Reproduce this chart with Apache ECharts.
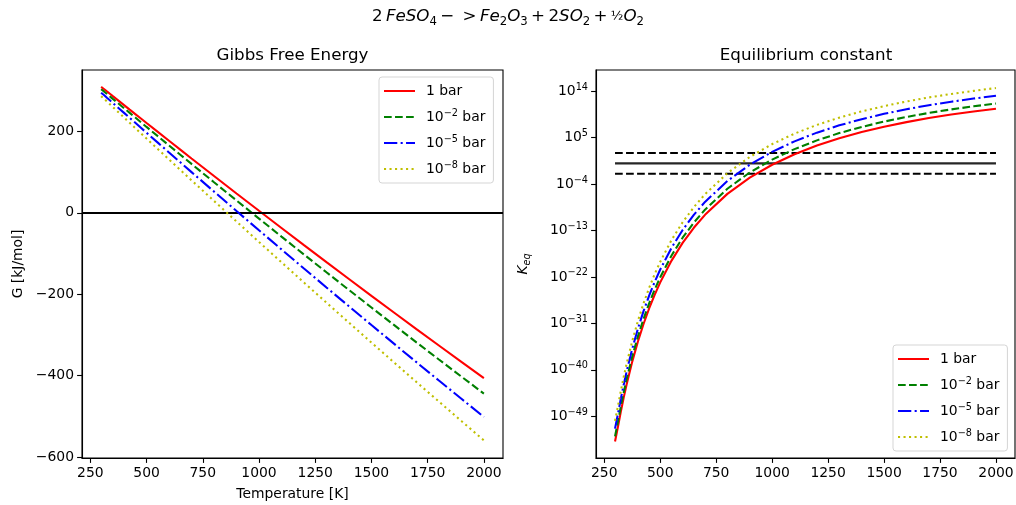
<!DOCTYPE html>
<html><head><meta charset="utf-8">
<script src="https://cdn.jsdelivr.net/npm/echarts@6/dist/echarts.min.js"></script>
<style>html,body{margin:0;padding:0;background:#fff}#c{width:1016px;height:505px}</style>
</head><body><div id="c"></div>
<script>
// ---- data ----
const temperature = [298, 312, 325, 337, 350, 375, 400, 425, 450, 475, 500, 550, 600, 650, 700, 800, 900, 1000, 1100, 1200, 1300, 1400, 1500, 1600, 1700, 1800, 1900, 2000];
const pressureLabels = ['1 bar', '10^-2 bar', '10^-5 bar', '10^-8 bar'];

// Gibbs free energy [kJ/mol]
const gibbs_1bar = [309.5, 303.7, 297.9, 292.6, 286.8, 275.8, 264.8, 253.7, 242.7, 231.7, 220.7, 198.9, 177.0, 155.3, 133.6, 90.5, 47.6, 5.0, -37.3, -79.4, -121.2, -162.7, -204.0, -244.9, -285.6, -326.0, -366.1, -406.0];
const gibbs_1e2 = [303.8, 297.7, 291.7, 286.2, 280.1, 268.6, 257.1, 245.6, 234.1, 222.6, 211.1, 188.4, 165.5, 142.9, 120.2, 75.2, 30.4, -14.1, -58.4, -102.4, -146.1, -189.5, -232.7, -275.5, -318.2, -360.5, -402.5, -444.3];
const gibbs_1e5 = [295.2, 288.8, 282.3, 276.5, 270.0, 257.8, 245.7, 233.4, 221.2, 209.0, 196.8, 172.6, 148.3, 124.2, 100.1, 52.2, 4.5, -42.9, -89.9, -136.8, -183.4, -229.7, -275.8, -321.5, -367.0, -412.2, -457.0, -501.7];
const gibbs_1e8 = [286.7, 279.8, 273.0, 266.8, 260.0, 247.1, 234.2, 221.2, 208.2, 195.3, 182.4, 156.8, 131.1, 105.5, 80.0, 29.2, -21.3, -71.6, -121.5, -171.3, -220.8, -269.9, -318.9, -367.4, -415.8, -463.8, -511.6, -559.2];

// log10 of equilibrium constant
const logK_1bar = [-53.9, -50.85, -47.88, -45.35, -42.80, -38.42, -34.58, -31.18, -28.17, -25.48, -23.06, -18.89, -15.41, -12.48, -9.97, -5.91, -2.76, -0.26, 1.77, 3.46, 4.87, 6.07, 7.10, 8.00, 8.78, 9.46, 10.06, 10.60];
const logK_1e2 = [-52.9, -49.85, -46.88, -44.35, -41.80, -37.42, -33.58, -30.18, -27.17, -24.48, -22.06, -17.89, -14.41, -11.48, -8.97, -4.91, -1.76, 0.74, 2.77, 4.46, 5.87, 7.07, 8.10, 9.00, 9.78, 10.46, 11.06, 11.60];
const logK_1e5 = [-51.4, -48.35, -45.38, -42.85, -40.30, -35.92, -32.08, -28.68, -25.67, -22.98, -20.56, -16.39, -12.91, -9.98, -7.47, -3.41, -0.26, 2.24, 4.27, 5.96, 7.37, 8.57, 9.60, 10.50, 11.28, 11.96, 12.56, 13.10];
const logK_1e8 = [-49.9, -46.85, -43.88, -41.35, -38.80, -34.42, -30.58, -27.18, -24.17, -21.48, -19.06, -14.89, -11.41, -8.48, -5.97, -1.91, 1.24, 3.74, 5.77, 7.46, 8.87, 10.07, 11.10, 12.00, 12.78, 13.46, 14.06, 14.60];

const refLogK = [2, 0, -2];
const tempTicks = [250, 500, 750, 1000, 1250, 1500, 1750, 2000];
const gibbsTicks = [-600, -400, -200, 0, 200];
const logKTicks = [-49, -40, -31, -22, -13, -4, 5, 14];

// ---- styling ----
const FONT = 'DejaVu Sans';
const colors = ['#ff0000', '#008000', '#0000ff', '#bfbf00'];
const LW = 2.08;
const dashes = ['solid', [7.7, 3.33], [13.3, 3.33, 2.08, 3.33], [2.08, 3.43]];
const gibbsSets = [gibbs_1bar, gibbs_1e2, gibbs_1e5, gibbs_1e8];
const logKSets = [logK_1bar, logK_1e2, logK_1e5, logK_1e8];
const MINUS = '\u2212';

function pairs(ys) { return temperature.map((t, i) => [t, ys[i]]); }
function supRich() {
  return {
    sup: { fontSize: 9.7, fontFamily: FONT, fontWeight: 'normal', color: '#000', lineHeight: 8, verticalAlign: 'top' }
  };
}
function labelWithSup(name) {
  return name.replace(/10\^(-?\d+)/, (m, e) => '10{sup|' + e.replace('-', MINUS) + '}');
}
const plainNum = v => String(v).replace('-', MINUS);

const axisCommon = {
  axisLine: { show: true, onZero: false, lineStyle: { color: '#000', width: 1.1 } },
  axisTick: { show: true, length: 4.9, lineStyle: { color: '#000', width: 1.1 } },
  splitLine: { show: false },
};

const series = [];
pressureLabels.forEach((name, k) => {
  const s = {
    name, type: 'line', xAxisIndex: 0, yAxisIndex: 0, data: pairs(gibbsSets[k]),
    symbol: 'none', showSymbol: false, animation: false, z: 3 + k,
    lineStyle: { color: colors[k], width: LW, type: dashes[k], cap: 'butt' },
    itemStyle: { color: colors[k] }
  };
  if (k === 0) {
    s.markLine = {
      silent: true, symbol: ['none', 'none'], animation: false,
      label: { show: false },
      lineStyle: { color: '#000', width: 2.0, type: 'solid' },
      data: [{ yAxis: 0 }]
    };
  }
  series.push(s);
});
pressureLabels.forEach((name, k) => {
  series.push({
    name, type: 'line', xAxisIndex: 1, yAxisIndex: 1, data: pairs(logKSets[k]),
    symbol: 'none', showSymbol: false, animation: false, z: 3 + k,
    lineStyle: { color: colors[k], width: LW, type: dashes[k], cap: 'butt' },
    itemStyle: { color: colors[k] }
  });
});
refLogK.forEach((v, i) => {
  series.push({
    name: 'ref' + i, type: 'line', xAxisIndex: 1, yAxisIndex: 1,
    data: [[temperature[0], v], [temperature[temperature.length - 1], v]],
    symbol: 'none', animation: false, silent: true, z: 2,
    lineStyle: { color: v === 0 ? '#262626' : '#000', width: 2.08, type: v === 0 ? 'solid' : [7.7, 3.33] }
  });
});

const legendCommon = {
  orient: 'vertical', data: pressureLabels,
  itemWidth: 31, itemHeight: 12, itemGap: 8,
  padding: [5, 8, 5, 4],
  borderColor: '#d5d5d5', borderWidth: 1, borderRadius: 3,
  backgroundColor: 'rgba(255,255,255,0.85)',
  selectedMode: false,
  itemStyle: { color: 'transparent', borderWidth: 0, opacity: 0 },
  formatter: labelWithSup,
  textStyle: {
    fontFamily: FONT, fontSize: 13.9, color: '#000', lineHeight: 18,
    padding: [0, 0, 0, 6], rich: supRich()
  }
};

const richTitle = {
  n: { fontSize: 16.7, fontFamily: FONT, fontWeight: 'normal', color: '#000', lineHeight: 22 },
  i: { fontSize: 16.7, fontFamily: FONT, fontWeight: 'normal', fontStyle: 'italic', color: '#000', lineHeight: 22 },
  s: { fontSize: 11.7, fontFamily: FONT, fontWeight: 'normal', color: '#000', lineHeight: 12, verticalAlign: 'bottom' },
  h: { fontSize: 13, fontFamily: FONT, fontWeight: 'normal', color: '#000', lineHeight: 22 }
};

const option = {
  backgroundColor: '#fff',
  animation: false,
  textStyle: { fontFamily: FONT },
  title: [
    {
      text: '{n|2\u2009}{i|FeSO}{s|4}{n|\u2009\u2212\u2002>\u2009}{i|Fe}{s|2}{i|O}{s|3}{n|\u2009+\u20092}{i|SO}{s|2}{n|\u2009+\u2009}{h|\u00bd}{i|O}{s|2}',
      left: 508, top: 6, textAlign: 'center', padding: 0,
      textStyle: { fontWeight: 'normal', fontFamily: FONT, fontSize: 16.7, color: '#000', rich: richTitle }
    },
    { text: 'Gibbs Free Energy', left: 292.5, top: 47, textAlign: 'center', padding: 0,
      textStyle: { fontFamily: FONT, fontSize: 16.7, fontWeight: 'normal', color: '#000' } },
    { text: 'Equilibrium constant', left: 806, top: 47, textAlign: 'center', padding: 0,
      textStyle: { fontFamily: FONT, fontSize: 16.7, fontWeight: 'normal', color: '#000' } }
  ],
  legend: [
    Object.assign({}, legendCommon, { left: 379, top: 77 }),
    Object.assign({}, legendCommon, { left: 893, top: 345 })
  ],
  grid: [
    { left: 82, top: 70, width: 421, height: 388, show: true, borderColor: '#000', borderWidth: 1.1, backgroundColor: 'transparent', containLabel: false, outerBoundsMode: 'none' },
    { left: 596, top: 70, width: 419, height: 388, show: true, borderColor: '#000', borderWidth: 1.1, backgroundColor: 'transparent', containLabel: false, outerBoundsMode: 'none' }
  ],
  xAxis: [
    Object.assign({}, axisCommon, {
      type: 'value', gridIndex: 0, min: 213, max: 2085,
      name: 'Temperature [K]', nameLocation: 'middle', nameGap: 29,
      nameTextStyle: { fontFamily: FONT, fontSize: 13.9, color: '#000' },
      axisTick: Object.assign({}, axisCommon.axisTick, { customValues: tempTicks }),
      axisLabel: { customValues: tempTicks, margin: 8, fontFamily: FONT, fontSize: 13.9, color: '#000', formatter: plainNum }
    }),
    Object.assign({}, axisCommon, {
      type: 'value', gridIndex: 1, min: 213, max: 2085,
      axisTick: Object.assign({}, axisCommon.axisTick, { customValues: tempTicks }),
      axisLabel: { customValues: tempTicks, margin: 8, fontFamily: FONT, fontSize: 13.9, color: '#000', formatter: plainNum }
    })
  ],
  yAxis: [
    Object.assign({}, axisCommon, {
      type: 'value', gridIndex: 0, min: -602.5, max: 351,
      name: 'G [kJ/mol]', nameLocation: 'middle', nameGap: 57, nameRotate: 90,
      nameTextStyle: { fontFamily: FONT, fontSize: 13.9, color: '#000' },
      axisTick: Object.assign({}, axisCommon.axisTick, { customValues: gibbsTicks }),
      axisLabel: { customValues: gibbsTicks, margin: 8, fontFamily: FONT, fontSize: 13.9, color: '#000', formatter: plainNum }
    }),
    Object.assign({}, axisCommon, {
      type: 'value', gridIndex: 1, min: -57.1, max: 18.1,
      name: '{k|K}{e|eq}', nameLocation: 'middle', nameGap: 64, nameRotate: 90,
      nameTextStyle: {
        rich: {
          k: { fontFamily: FONT, fontSize: 13.9, fontStyle: 'italic', color: '#000', lineHeight: 18 },
          e: { fontFamily: FONT, fontSize: 9.7, fontStyle: 'italic', color: '#000', lineHeight: 10, verticalAlign: 'bottom' }
        }
      },
      axisTick: Object.assign({}, axisCommon.axisTick, { customValues: logKTicks }),
      axisLabel: { customValues: logKTicks, margin: 8, fontFamily: FONT, fontSize: 13.9, color: '#000', lineHeight: 18,
        formatter: v => '10{sup|' + String(v).replace('-', MINUS) + '}',
        rich: supRich() }
    })
  ],
  series
};

const chart = echarts.init(document.getElementById('c'), null, { renderer: 'canvas' });
chart.setOption(option);
</script>
</body></html>
